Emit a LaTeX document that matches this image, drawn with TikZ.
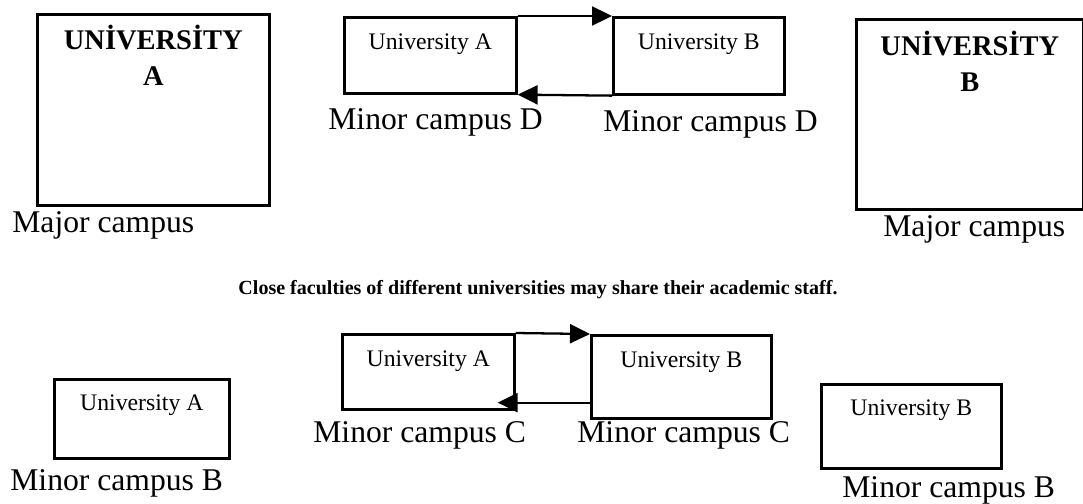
\documentclass[tikz,border=0pt]{standalone}
\usepackage{fontspec}
\setmainfont{Liberation Serif}
\usetikzlibrary{positioning,arrows.meta}
\tikzset{% styles for the campus boxes and their texts
   campus/.style={draw, line width=1.5pt, rectangle, inner sep=0pt, anchor=north west},
   uni/.style={inner sep=0pt, font=\fontsize{13.5}{16}\selectfont},
   title/.style={inner sep=0pt, align=center, font=\fontsize{16.2}{20.5}\selectfont\bfseries},
   tag/.style={inner sep=0pt, anchor=base west, font=\fontsize{18}{22}\selectfont},
   note/.style={inner sep=0pt, anchor=base, font=\fontsize{11.4}{14}\selectfont\bfseries},
   % and the arrows between two faculties
   link/.style={line width=1.3pt, -{Triangle[length=0.4cm, width=0.38cm]}}
}

\begin{document}
\begin{tikzpicture}
     \useasboundingbox (0,0) rectangle (21.66,10.06);
     % major campuses
     \node[campus, minimum width=4.64cm, minimum height=3.82cm] (majA) at (0.72,9.80) {};
     \node[title, below=0.24cm of majA.north] (titleA) {UNİVERSİTY\\A};
     \node[tag] (tagA) at ([xshift=-0.48cm, yshift=-0.52cm]majA.south west) {Major campus};
     \node[campus, minimum width=4.54cm, minimum height=3.80cm] (majB) at (17.10,9.70) {};
     \node[title, below=0.26cm of majB.north] (titleB) {UNİVERSİTY\\B};
     \node[tag] (tagB) at ([xshift=0.56cm, yshift=-0.52cm]majB.south west) {Major campus};
     % minor campus D
     \node[campus, minimum width=3.44cm, minimum height=1.52cm] (uaD) at (6.86,9.74) {};
     \node[uni, below=0.34cm of uaD.north] (uaDtext) {University A};
     \node[tag] (uaDtag) at ([xshift=-0.30cm, yshift=-0.70cm]uaD.south west) {Minor campus D};
     \node[campus, minimum width=3.42cm, minimum height=1.54cm] (ubD) at (12.24,9.74) {};
     \node[uni, below=0.34cm of ubD.north] (ubDtext) {University B};
     \node[tag] (ubDtag) at ([xshift=-0.18cm, yshift=-0.72cm]ubD.south west) {Minor campus D};
     \draw[link] (uaD.north east) -- (ubD.north west);
     \draw[link] (ubD.south west) -- (uaD.south east);
     \node[note] (share) at (10.76,4.18)
         {Close faculties of different universities may share their academic staff.};
     % minor campus C
     \node[campus, minimum width=3.44cm, minimum height=1.50cm] (uaC) at (6.82,3.40) {};
     \node[uni, below=0.34cm of uaC.north] (uaCtext) {University A};
     \node[tag] (uaCtag) at ([xshift=-0.56cm, yshift=-0.64cm]uaC.south west) {Minor campus C};
     \node[campus, minimum width=3.60cm, minimum height=1.66cm] (ubC) at (11.80,3.38) {};
     \node[uni, below=0.34cm of ubC.north] (ubCtext) {University B};
     \node[tag] (ubCtag) at ([xshift=-0.26cm, yshift=-0.46cm]ubC.south west) {Minor campus C};
     \draw[link] (uaC.north east) -- (ubC.north west);
     \draw[link, shorten >=-0.36cm] ([yshift=0.34cm]ubC.south west) -- ([yshift=0.16cm]uaC.south east);
     % minor campus B
     \node[campus, minimum width=3.50cm, minimum height=1.58cm] (uaB) at (1.06,2.50) {};
     \node[uni, below=0.32cm of uaB.north] (uaBtext) {University A};
     \node[tag] (uaBtag) at ([xshift=-0.86cm, yshift=-0.62cm]uaB.south west) {Minor campus B};
     \node[campus, minimum width=3.60cm, minimum height=1.68cm] (ubB) at (16.40,2.40) {};
     \node[uni, below=0.32cm of ubB.north] (ubBtext) {University B};
     \node[tag] (ubBtag) at ([xshift=0.44cm, yshift=-0.56cm]ubB.south west) {Minor campus B};
\end{tikzpicture}
\end{document}
